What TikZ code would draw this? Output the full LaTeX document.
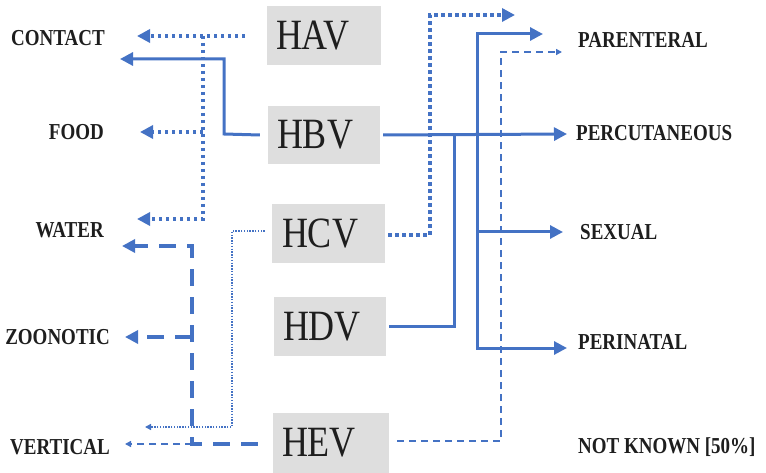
\documentclass[tikz,border=0pt]{standalone}
\usepackage{fontspec}
\setmainfont{Liberation Serif}
\usetikzlibrary{arrows.meta}
\definecolor{vblue}{HTML}{4472C4}
\definecolor{boxgray}{HTML}{DEDEDE}
\definecolor{txt}{HTML}{1E1E1E}
\tikzset{
  vbox/.style={fill=boxgray, draw=none, minimum height=59pt, align=left,
    inner xsep=9pt, inner ysep=0pt, text=txt,
    font=\fontsize{36}{36}\selectfont},
  lab/.style={font=\fontsize{19}{20}\selectfont\bfseries, text=txt, inner sep=0pt},
  bigtip/.style={-{Triangle[length=13pt,width=13pt]}},
  smalltip/.style={-{Triangle[length=6pt,width=6pt]}},
  sol/.style={draw=vblue, line width=3pt, bigtip},
  dotT/.style={draw=vblue, line width=3.5pt, dash pattern=on 3.5pt off 3.5pt, bigtip},
  dott/.style={draw=vblue, line width=1.4pt, dash pattern=on 1.4pt off 1.4pt, smalltip},
  dashT/.style={draw=vblue, line width=4pt, dash pattern=on 17pt off 11pt, bigtip},
  dasht/.style={draw=vblue, line width=1.6pt, dash pattern=on 7pt off 5pt, smalltip},
}
\newcommand{\vtxt}[1]{\scalebox{1}[1.2]{#1}}
\newcommand{\ltxt}[1]{\scalebox{1}[1.2]{#1}}
\begin{document}
\begin{tikzpicture}[x=1pt,y=-1pt]
\useasboundingbox (0,0) rectangle (766,473);
% boxes
\node[vbox, minimum width=114pt, text width=96pt] (hav) at (324,35.5) {\vtxt{HAV}};
\node[vbox, minimum width=112pt, text width=94pt, minimum height=58pt] (hbv) at (324,135) {\vtxt{HBV}};
\node[vbox, minimum width=113pt, text width=93pt] (hcv) at (328.5,234) {\vtxt{HCV}};
\node[vbox, minimum width=110pt, text width=94pt] (hdv) at (330,326.5) {\vtxt{HDV}};
\node[vbox, minimum width=116pt, text width=98pt, minimum height=60pt] (hev) at (331,443) {\vtxt{HEV}};
% left labels
\node[lab, anchor=east] (contact) at (105,38) {\ltxt{CONTACT}};
\node[lab, anchor=east] (food) at (104,132) {\ltxt{FOOD}};
\node[lab, anchor=east] (water) at (104,230) {\ltxt{WATER}};
\node[lab, anchor=east] (zoo) at (110,337) {\ltxt{ZOONOTIC}};
\node[lab, anchor=east] (vert) at (110,447) {\ltxt{VERTICAL}};
% right labels
\node[lab, anchor=west] (par) at (578,40) {\ltxt{PARENTERAL}};
\node[lab, anchor=west] (perc) at (576,133) {\ltxt{PERCUTANEOUS}};
\node[lab, anchor=west] (sex) at (580,232) {\ltxt{SEXUAL}};
\node[lab, anchor=west] (peri) at (578,342) {\ltxt{PERINATAL}};
\node[lab, anchor=west] (nk) at (578,447) {\ltxt{NOT KNOWN [50\%]}};
% junction coordinates
\coordinate (a1) at (245,36);
\coordinate (a2) at (203,36);
\coordinate (a3) at (203,132);
\coordinate (a4) at (203,219);
\coordinate (b1) at (224,134);
\coordinate (b2) at (224,59);
\coordinate (b3) at (477,134);
\coordinate (b4) at (477,34);
\coordinate (b5) at (477,232);
\coordinate (b6) at (477,348);
\coordinate (d1) at (454,326);
\coordinate (d2) at (454,134);
\coordinate (c1) at (430,235);
\coordinate (c2) at (430,15);
\coordinate (c3) at (232,231);
\coordinate (c4) at (232,427);
\coordinate (e1) at (192,444);
\coordinate (e2) at (192,246);
\coordinate (e3) at (192,337);
\coordinate (e4) at (501,441);
\coordinate (e5) at (501,52);
% HAV
\draw[dotT] (a1) -- (137,36);
\draw[dotT] (a2) -- (a4) -- (137,219);
\draw[dotT] (a3) -- (140,132);
% HBV
\draw[sol] ([xshift=-8pt]hbv.west) -- (b1) -- (b2) -- (120,59);
\draw[sol] ([xshift=3pt]hbv.east) -- (567,134);
\draw[sol] (b3) -- (b4) -- (543,34);
\draw[sol] (b3) -- (b6) -- (567,348);
\draw[sol] (b5) -- (563,232);
% HDV
\draw[draw=vblue, line width=3pt] ([xshift=3pt]hdv.east |- d1) -- (d1) -- (d2);
% HCV
\draw[dotT] ([xshift=3pt]hcv.east |- c1) -- (c1) -- (c2) -- (515,15);
\draw[dott] ([xshift=-7pt]hcv.west |- c3) -- (c3) -- (c4) -- (145,427);
% HEV
\draw[dashT] ([xshift=-15pt]hev.west |- e1) -- (e1) -- (e2) -- (122,246);
\draw[dashT] (e3) -- (125,337);
\draw[dasht] (e1) -- (125,444);
\draw[dasht] ([xshift=8pt]hev.east |- e4) -- (e4) -- (e5) -- (562,52);
\end{tikzpicture}
\end{document}
